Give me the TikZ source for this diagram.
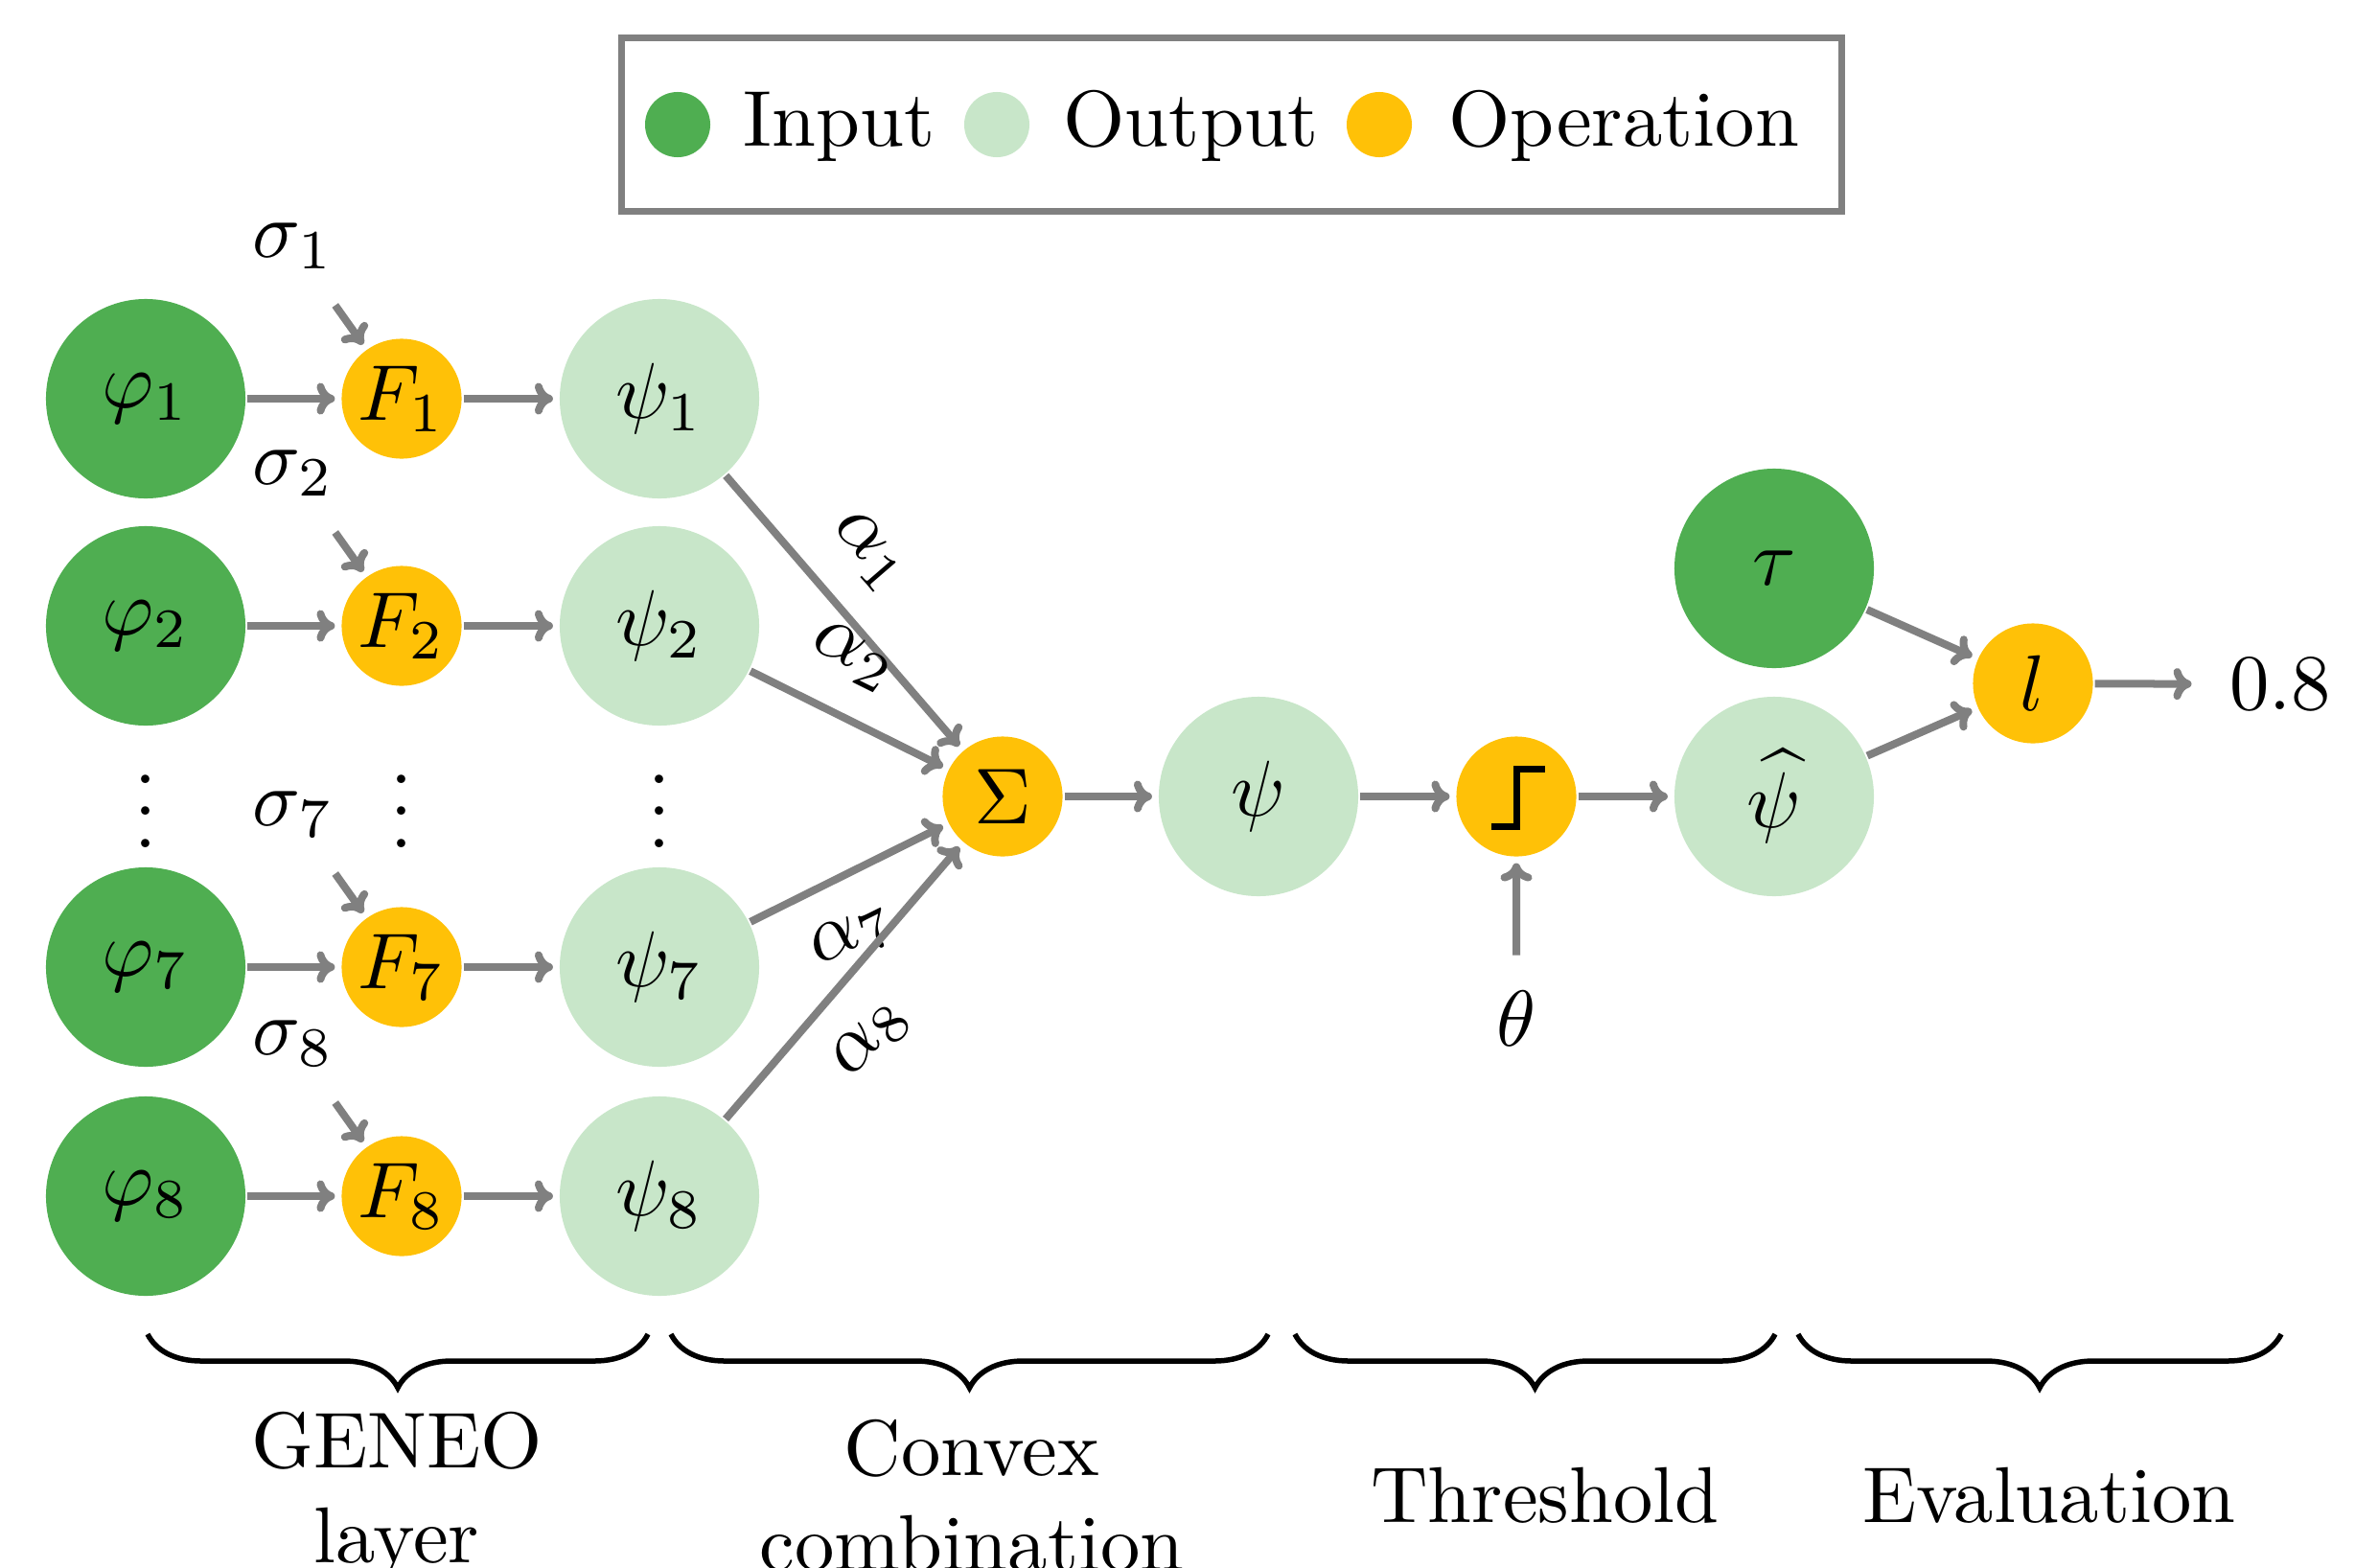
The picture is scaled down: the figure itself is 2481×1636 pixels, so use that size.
\documentclass[tikz,border=0pt]{standalone}
\usetikzlibrary{arrows.meta,decorations.pathreplacing}
\definecolor{ingreen}{HTML}{4FAE51}
\definecolor{outgreen}{HTML}{C8E6C9}
\definecolor{opamber}{HTML}{FFC107}
\definecolor{edgegray}{HTML}{808080}
\begin{document}
\begin{tikzpicture}[x=0.01cm,y=-0.01cm,
  every node/.style={font=\fontsize{10}{12}\selectfont},
  sc/.style={scale=2.35},
  bignode/.style={sc, circle, minimum size=0.885cm, inner sep=0pt, outer sep=0pt},
  smallnode/.style={sc, circle, minimum size=0.532cm, inner sep=0pt, outer sep=0pt},
  innode/.style={bignode, fill=ingreen},
  outnode/.style={bignode, fill=outgreen},
  opnode/.style={smallnode, fill=opamber},
  txt/.style={sc, inner sep=0pt},
  arr/.style={draw=edgegray, line width=0.08cm, -{To[length=0.19cm,width=0.33cm,round]}, shorten >=0.07cm, shorten <=0.02cm},
  bracestyle/.style={decorate, decoration={brace, mirror, amplitude=0.56cm}, line width=0.055cm},
  stepline/.style={line width=0.07cm},
  legcirc/.style={circle, minimum size=0.68cm, inner sep=0pt},
  blabel/.style={sc, align=center, inner sep=0pt},
]
\useasboundingbox (0,0) rectangle (2481,1636);

% legend
\node[draw=edgegray, line width=0.07cm, minimum width=12.73cm, minimum height=1.80cm, inner sep=0pt] (legend) at (1285,130) {};
\node[legcirc, fill=ingreen] (lin) at (707,130) {};
\node[txt, anchor=base west] (lintxt) at (774,152) {Input};
\node[legcirc, fill=outgreen] (lout) at (1040,130) {};
\node[txt, anchor=base west] (louttxt) at (1108,152) {Output};
\node[legcirc, fill=opamber] (lop) at (1439,130) {};
\node[txt, anchor=base west] (loptxt) at (1510,152) {Operation};

% GENEO layer
\foreach \i/\y in {1/416, 2/653, 7/1009, 8/1248} {
  \node[innode] (phi\i) at (152,\y) {$\varphi_{\i}$};
  \node[opnode] (F\i) at (419,\y) {$F_{\i}$};
  \node[outnode] (psi\i) at (688,\y) {$\psi_{\i}$};
  \node[txt] (s\i) at (306,\y-159) {$\sigma_{\i}$};
  \draw[arr] (phi\i) -- (F\i);
  \draw[arr] (F\i) -- (psi\i);
  \draw[arr, shorten <=0.44cm] (s\i) -- (F\i);
}
\node[txt, anchor=base] (dphi) at (152,884) {$\vdots$};
\node[txt, anchor=base] (dF) at (419,884) {$\vdots$};
\node[txt, anchor=base] (dpsi) at (688,884) {$\vdots$};

% convex combination
\node[opnode] (sum) at (1046,831) {$\Sigma$};
\draw[arr] (psi1) -- node[sc, sloped, above, pos=0.42] {$\alpha_1$} (sum);
\draw[arr] (psi2) -- node[sc, sloped, above, pos=0.39] {$\alpha_2$} (sum);
\draw[arr] (psi7) -- node[sc, sloped, below, pos=0.39] {$\alpha_7$} (sum);
\draw[arr] (psi8) -- node[sc, sloped, below, pos=0.43] {$\alpha_8$} (sum);

\node[outnode] (psi) at (1313,831) {$\psi$};
\draw[arr] (sum) -- (psi);

% threshold
\node[opnode] (thr) at (1582,831) {};
\draw[stepline, shift={(thr.center)}] (-26,31) -- (0,31) -- (0,-29) -- (30,-29);
\draw[arr] (psi) -- (thr);
\node[txt, inner sep=0.145cm] (theta) at (1582,1063) {$\theta$};
\draw[arr] (theta) -- (thr);
\node[outnode] (psihat) at (1851,831) {$\widehat{\psi}$};
\draw[arr] (thr) -- (psihat);

% evaluation
\node[innode] (tau) at (1851,593) {$\tau$};
\node[opnode] (loss) at (2121,713) {$l$};
\node[txt, inner sep=0.132cm] (out) at (2379,714) {$0.8$};
\draw[arr] (tau) -- (loss);
\draw[arr] (psihat) -- (loss);
\draw[arr] (loss) -- (out);

% braces
\coordinate (b1a) at (154,1392); \coordinate (b1b) at (676,1392);
\coordinate (b2a) at (700,1392); \coordinate (b2b) at (1323,1392);
\coordinate (b3a) at (1351,1392); \coordinate (b3b) at (1852,1392);
\coordinate (b4a) at (1876,1392); \coordinate (b4b) at (2380,1392);
\draw[bracestyle] (b1a) -- (b1b);
\draw[bracestyle] (b2a) -- (b2b);
\draw[bracestyle] (b3a) -- (b3b);
\draw[bracestyle] (b4a) -- (b4b);
\node[blabel] (lab1) at (414,1560) {GENEO\\layer};
\node[blabel] (lab2) at (1014,1560) {Convex\\combination};
\node[blabel] (lab3) at (1612,1560) {Threshold};
\node[blabel] (lab4) at (2138,1560) {Evaluation};
\end{tikzpicture}
\end{document}
